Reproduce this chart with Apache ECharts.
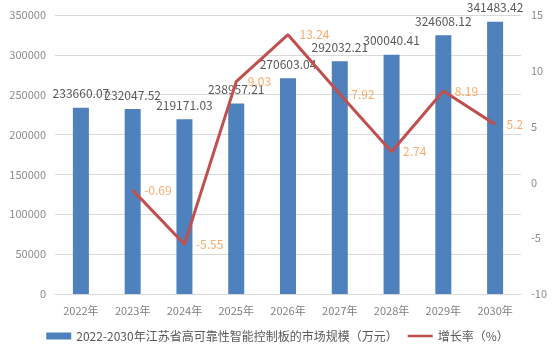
<!DOCTYPE html>
<html><head><meta charset="utf-8">
<script src="https://cdn.jsdelivr.net/npm/echarts@6/dist/echarts.min.js"></script>
<style>html,body{margin:0;padding:0;background:#fff}#c{width:555px;height:357px}</style>
</head><body><div id="c"></div>
<script>
const categories = ['2022年','2023年','2024年','2025年','2026年','2027年','2028年','2029年','2030年'];
const marketSize = [233660.07,232047.52,219171.03,238957.21,270603.04,292032.21,300040.41,324608.12,341483.42];
const growthRate = [null,-0.69,-5.55,9.03,13.24,7.92,2.74,8.19,5.2];
const barName = '2022-2030年江苏省高可靠性智能控制板的市场规模（万元）';
const lineName = '增长率（%）';

const chart = echarts.init(document.getElementById('c'));
const font = '"Microsoft YaHei","Noto Sans CJK SC",sans-serif';
chart.setOption({
  animation:false,
  textStyle:{fontFamily:font},
  grid:{left:55,right:34,top:15,bottom:63},
  legend:{bottom:10,left:'center',itemGap:10,itemWidth:25,itemHeight:7,
    textStyle:{color:'#595959',fontSize:12,fontFamily:font},
    data:[{name:barName,icon:'rect'},
          {name:lineName,icon:'path://M0,0 L0.5,0 L0.5,0.5 L0,0.5 Z M0,7 L100,7 L100,17 L0,17 Z M99.5,23.5 L100,23.5 L100,24 L99.5,24 Z',
           itemStyle:{color:'#C0504D'}}]},
  xAxis:{type:'category',data:categories,
    axisLine:{show:true,lineStyle:{color:'#d9d9d9'}},axisTick:{show:false},
    axisLabel:{color:'#7f7f7f',fontSize:11,margin:11}},
  yAxis:[
    {type:'value',min:0,max:350000,interval:50000,
     axisLine:{show:false},axisTick:{show:false},
     splitLine:{lineStyle:{color:'#d9d9d9'}},
     axisLabel:{color:'#8c8c8c',fontSize:11,margin:9,formatter:v=>String(v)}},
    {type:'value',min:-10,max:15,interval:5,
     axisLine:{show:false},axisTick:{show:false},splitLine:{show:false},
     axisLabel:{color:'#8c8c8c',fontSize:11,margin:10,formatter:v=>String(v)}}
  ],
  series:[
    {name:barName,type:'bar',data:marketSize,barWidth:16,
     itemStyle:{color:'#4F81BD'},
     label:{show:true,position:'top',color:'#595959',fontSize:12,distance:8}},
    {name:lineName,type:'line',yAxisIndex:1,data:growthRate,
     symbol:'none',lineStyle:{color:'#C0504D',width:3},itemStyle:{color:'#C0504D'}},
    {name:'labels',type:'scatter',yAxisIndex:1,data:growthRate,
     symbolSize:1,itemStyle:{color:'rgba(0,0,0,0)'},silent:true,z:5,
     label:{show:true,position:'right',color:'#F79646',fontSize:12,distance:11}}
  ]
});
</script></body></html>
